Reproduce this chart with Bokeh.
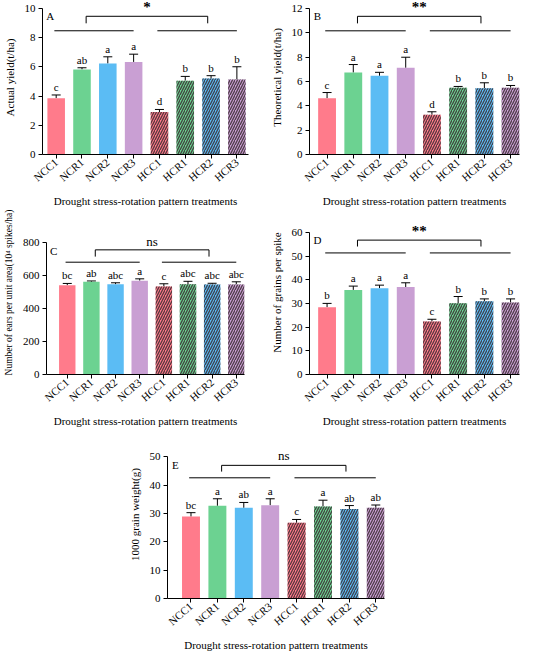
from bokeh.plotting import figure
from bokeh.models import ColumnDataSource, Whisker, TeeHead, FixedTicker, Spacer
from bokeh.layouts import row, column
from bokeh.embed import file_html
from bokeh.resources import INLINE
from bokeh.core.properties import value

FONT = "Liberation Serif"

treatments = ["NCC1", "NCR1", "NCR2", "NCR3", "HCC1", "HCR1", "HCR2", "HCR3"]
bar_colors = ["#FF7B8B", "#6CD291", "#5BBCF4", "#C99FD3",
              "#FF7B8B", "#6CD291", "#5BBCF4", "#C99FD3"]
hatched = [False, False, False, False, True, True, True, True]
x_title = "Drought stress-rotation pattern treatments"

# Panel A - actual yield (t/ha)
actual_yield = [3.85, 5.82, 6.22, 6.33, 2.90, 5.05, 5.19, 5.12]
actual_yield_err = [0.22, 0.11, 0.46, 0.53, 0.18, 0.29, 0.20, 0.88]
actual_yield_letters = ["c", "ab", "a", "a", "d", "b", "b", "b"]
actual_yield_ticks = [0, 2, 4, 6, 8, 10]
actual_yield_levels = [8.46, 8.97, 9.45, 10.07]   # group line, bracket leg, bracket top, mark
actual_yield_sig = "*"

# Panel B - theoretical yield (t/ha)
theo_yield = [4.62, 6.73, 6.46, 7.12, 3.27, 5.49, 5.44, 5.49]
theo_yield_err = [0.47, 0.66, 0.29, 0.87, 0.24, 0.10, 0.45, 0.18]
theo_yield_letters = ["c", "a", "a", "a", "d", "b", "b", "b"]
theo_yield_ticks = [0, 2, 4, 6, 8, 10, 12]
theo_yield_levels = [10.16, 10.77, 11.35, 12.1]
theo_yield_sig = "**"

# Panel C - ears per unit area (10^4 spikes/ha)
ears = [542, 563, 548, 570, 535, 548, 547, 547]
ears_err = [11, 5, 9, 11, 16, 18, 7, 16]
ears_letters = ["bc", "ab", "abc", "a", "c", "abc", "abc", "abc"]
ears_ticks = [0, 200, 400, 600, 800]
ears_levels = [682, 716, 757, 809]
ears_sig = "ns"

# Panel D - grains per spike
grains = [28.4, 35.7, 36.4, 36.9, 22.4, 30.1, 30.9, 30.4]
grains_err = [1.6, 1.6, 1.3, 1.8, 0.9, 2.8, 1.0, 1.5]
grains_letters = ["b", "a", "a", "a", "c", "b", "b", "b"]
grains_ticks = [0, 10, 20, 30, 40, 50, 60]
grains_levels = [51.3, 54.0, 56.7, 60.7]
grains_sig = "**"

# Panel E - 1000 grain weight (g)
tgw = [28.9, 32.7, 32.0, 32.9, 26.7, 32.5, 31.6, 32.0]
tgw_err = [1.4, 2.5, 1.9, 2.3, 1.2, 2.2, 1.2, 1.0]
tgw_letters = ["bc", "a", "ab", "a", "c", "a", "ab", "ab"]
tgw_ticks = [0, 10, 20, 30, 40, 50]
tgw_levels = [42.6, 44.8, 47.0, 50.5]
tgw_sig = "ns"


def make_panel(panel, vals, errs, letters, ticks, levels, sig, ylab,
               width, height, xr, yend, mbl, mbr, mbb, ylab_size="11px"):
    xs = list(range(len(treatments)))
    p = figure(width=width, height=height, x_range=xr, y_range=(0, yend),
               output_backend="svg", toolbar_location=None,
               min_border_left=mbl, min_border_right=mbr,
               min_border_bottom=mbb, min_border_top=0)
    p.xgrid.visible = False
    p.ygrid.visible = False
    p.outline_line_color = None
    p.background_fill_color = "white"

    tops = [v + e for v, e in zip(vals, errs)]
    src = ColumnDataSource(dict(x=xs, y=vals, lo=vals, hi=tops, lab=letters,
                                color=bar_colors))
    solid = ColumnDataSource(dict(x=[x for x, h in zip(xs, hatched) if not h],
                                  y=[v for v, h in zip(vals, hatched) if not h],
                                  color=[c for c, h in zip(bar_colors, hatched) if not h]))
    hat = ColumnDataSource(dict(x=[x for x, h in zip(xs, hatched) if h],
                                y=[v for v, h in zip(vals, hatched) if h],
                                color=[c for c, h in zip(bar_colors, hatched) if h]))
    p.vbar(x="x", top="y", width=0.68, source=solid, fill_color="color",
           line_color=None)
    p.vbar(x="x", top="y", width=0.68, source=hat, fill_color="color",
           line_color=None, hatch_pattern="right_diagonal_line", hatch_color="#3a2a30",
           hatch_alpha=0.85, hatch_scale=5, hatch_weight=1.3)

    w = Whisker(source=src, base="x", lower="lo", upper="hi",
                line_color="black", line_width=1,
                upper_head=TeeHead(size=9, line_color="black", line_width=1),
                lower_head=None)
    p.add_layout(w)

    p.text(x="x", y="hi", text="lab", source=src, text_font=value(FONT),
           text_font_size="11px", text_align="center", text_baseline="bottom",
           y_offset=-2, text_color="black")

    # comparison brackets
    line_y, leg_y, top_y, sig_y = levels
    g1 = (xs[0] - 0.07, xs[3])
    g2 = (xs[4] - 0.08, xs[7])
    b1, b2 = xs[1] + 0.16, xs[5] + 0.87
    p.multi_line(xs=[[g1[0], g1[1]], [g2[0], g2[1]], [b1, b1, b2, b2]],
                 ys=[[line_y, line_y], [line_y, line_y], [leg_y, top_y, top_y, leg_y]],
                 line_color="black", line_width=1)
    bold = sig.startswith("*")
    p.text(x=[(b1 + b2) / 2], y=[sig_y], text=[sig], text_font=value(FONT),
           text_font_size="15px" if bold else "13px",
           text_font_style="bold" if bold else "normal",
           text_align="center", text_baseline="middle", text_color="black")

    # panel letter
    p.text(x=[xr[0] + 0.3], y=[ticks[-1]], text=[panel], text_font=value(FONT),
           text_font_size="11px", text_align="center", text_baseline="top",
           y_offset=2, text_color="black")

    for ax in (p.xaxis[0], p.yaxis[0]):
        ax.axis_line_color = "black"
        ax.axis_line_width = 1
        ax.major_tick_line_color = "black"
        ax.major_tick_in = 0
        ax.major_tick_out = 4
        ax.minor_tick_line_color = None
        ax.major_label_text_font = FONT
        ax.major_label_text_font_size = "11px"
        ax.major_label_text_color = "black"
        ax.axis_label_text_font = FONT
        ax.axis_label_text_font_style = "normal"
        ax.axis_label_text_color = "black"

    p.yaxis.ticker = FixedTicker(ticks=ticks)
    p.yaxis.bounds = (0, ticks[-1])
    p.yaxis.axis_label = ylab
    p.yaxis.axis_label_text_font_size = ylab_size
    p.yaxis.major_label_standoff = 3
    p.yaxis.axis_label_standoff = 6

    p.xaxis.ticker = FixedTicker(ticks=xs)
    p.xaxis.major_label_overrides = {i: t for i, t in enumerate(treatments)}
    p.xaxis.major_label_orientation = 0.72
    p.xaxis.major_label_standoff = 2
    p.xaxis.axis_label = x_title
    p.xaxis.axis_label_text_font_size = "11px"
    p.xaxis.axis_label_standoff = 4
    return p


pA = make_panel("A", actual_yield, actual_yield_err, actual_yield_letters,
                actual_yield_ticks, actual_yield_levels, actual_yield_sig,
                "Actual yield(t/ha)", 267, 210, (-0.53, 7.45), 10.53, 39, 19, 54)
pB = make_panel("B", theo_yield, theo_yield_err, theo_yield_letters,
                theo_yield_ticks, theo_yield_levels, theo_yield_sig,
                "Theoretical yield(t/ha)", 267, 210, (-0.67, 7.34), 12.65, 41, 15, 54)
pC = make_panel("C", ears, ears_err, ears_letters, ears_ticks, ears_levels, ears_sig,
                "Number of ears per unit area(10\u2074 spikes/ha)", 267, 220,
                (-0.86, 7.34), 996, 39, 23, 46, ylab_size="9.5px")
pD = make_panel("D", grains, grains_err, grains_letters, grains_ticks, grains_levels,
                grains_sig, "Number of grains per spike", 267, 220,
                (-0.67, 7.34), 69.2, 41, 15, 51)
pE = make_panel("E", tgw, tgw_err, tgw_letters, tgw_ticks, tgw_levels, tgw_sig,
                "1000 grain weight(g)", 274, 224, (-0.89, 7.33), 59.3, 40, 15, 49)

layout = column(row(pA, pB), row(pC, pD), row(Spacer(width=125, height=224), pE))
open("out.html", "w").write(file_html(layout, INLINE))
